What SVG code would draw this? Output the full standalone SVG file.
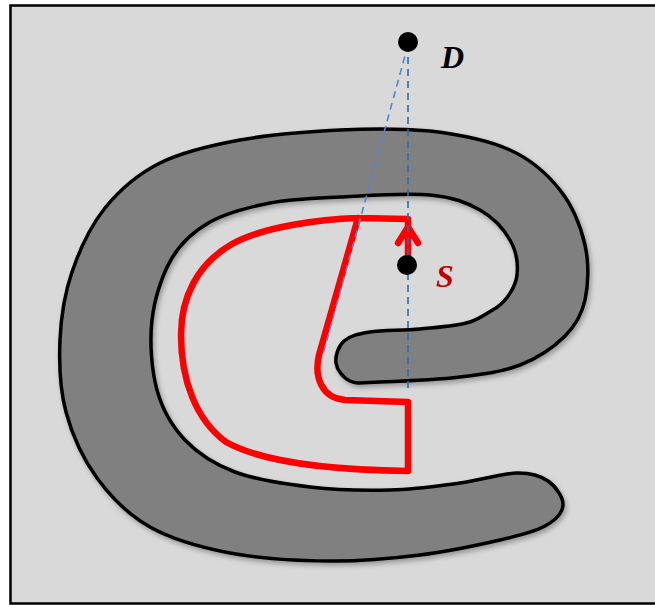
<svg xmlns="http://www.w3.org/2000/svg" width="655" height="605" viewBox="0 0 655 605">
<style>
.band{fill:#808080;stroke:#000;stroke-width:3.5;stroke-linejoin:round}
.route{fill:none;stroke:#ff0000;stroke-width:6.5;stroke-linejoin:round;stroke-linecap:round}
.dash1{fill:none;stroke:#1f6fc0;stroke-width:1.6;stroke-dasharray:7 5}
.dash2{fill:none;stroke:#4f86d6;stroke-width:1.6;stroke-dasharray:7 5}
.dot{fill:#000}
.lbl{font-family:"Liberation Serif",serif;font-weight:bold;font-style:italic;font-size:32px}
</style>
<defs>
<filter id="sh" x="-10%" y="-10%" width="120%" height="120%">
<feDropShadow dx="2" dy="3" stdDeviation="2.5" flood-color="#000" flood-opacity="0.3"/>
</filter>
</defs>
<rect x="10.5" y="5.5" width="700" height="598" fill="#d9d9d9" stroke="#000" stroke-width="2.5"/>
<g id="obstacle">
<path class="band" filter="url(#sh)" d="M563,505 C562.5,512.5 555.5,520.2 545,526 C534.5,531.8 520.8,535.2 500,540 C479.2,544.8 448.3,551.5 420,555 C391.7,558.5 361.7,561.3 330,561 C298.3,560.7 260,558.7 230,553 C200,547.3 172.2,539.5 150,527 C127.8,514.5 111,497.2 97,478 C83,458.8 72.2,435 66,412 C59.8,389 59,363.3 60,340 C61,316.7 64.5,294 72,272 C79.5,250 90.3,226.2 105,208 C119.7,189.8 137.5,174.3 160,163 C182.5,151.7 210,145.5 240,140 C270,134.5 308.3,131.5 340,130 C371.7,128.5 401.7,128.5 430,131 C458.3,134.3 488.3,140.2 510,150 C531.7,159.8 547.5,174.2 560,190 C572.5,205.8 580.8,226.7 585,245 C589.2,263.3 588.3,284.8 585,300 C581.7,315.2 575.8,325.2 565,336 C554.2,346.8 537.5,358.2 520,365 C502.5,371.8 483.3,374.2 460,377 C436.7,379.8 398.3,381.3 380,382 C361.7,382.7 357.3,384.2 350,381 C342.7,377.8 337,369.7 336,363 C335,356.3 338.3,346.2 344,341 C349.7,335.8 357.3,334 370,332 C382.7,330 403.3,330.7 420,329 C436.7,327.3 456.2,326.3 470,322 C481,318.5 487,313 496,308 C508,300 515.8,285.5 517,275 C518.2,264.5 516.2,250.8 510,240 C503.8,229.2 493.3,217.5 480,210 C466.7,202.5 453.3,197.2 430,195 C406.7,192.8 366.7,195.7 340,197 C313.3,198.3 291.7,198.8 270,203 C248.3,207.2 226.3,212.8 210,222 C193.7,231.2 181.7,241.7 172,258 C162.3,274.3 154.5,298 152,320 C149.5,342 151.5,370 157,390 C162.5,410 172,426.3 185,440 C198,453.7 214.2,464.2 235,472 C255.8,479.8 284.2,484 310,487 C335.8,490 365,490.7 390,490 C415,489.3 438.8,485.8 460,483 C481.2,480.2 502.3,473.3 517,473 C531.7,472.7 540.3,475.7 548,481 C555.7,486.3 563.5,497.5 563,505 Z"/>
</g>
<g id="connectors">
<path class="route" d="M408,219 L358,218 C320,219 262,227 232,244 C197,264 181,298 181,335 C181,380 196,420 226,442 C262,462 330,470 408,471 L408,402 L345,400 C321,398 314,376 319,355 L358,218"/>
<path class="route" d="M408,262 L408,222 M398,243 L408,227 L418,243"/>
<path class="dash1" d="M408,45 L408,393"/>
<path class="dash2" d="M408,45 L322,358"/>
</g>
<g id="node-D">
<circle class="dot" cx="408" cy="42" r="10"/>
<text class="lbl" x="441" y="68" fill="#000">D</text>
</g>
<g id="node-S">
<circle class="dot" cx="407" cy="265" r="10"/>
<text class="lbl" x="436" y="287" fill="#c00000">S</text>
</g>
</svg>
